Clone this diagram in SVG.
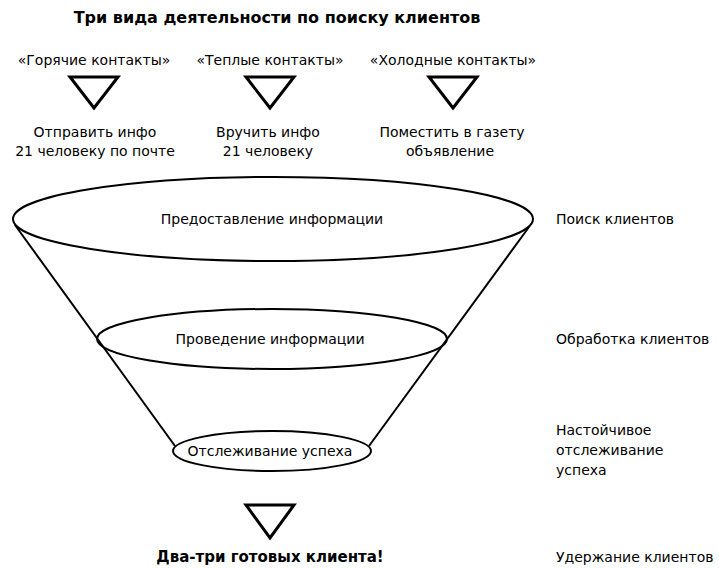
<svg xmlns="http://www.w3.org/2000/svg" width="719" height="568" viewBox="0 0 719 568">
<style>
.t{font-family:"DejaVu Sans","Liberation Sans",sans-serif;font-size:14px;fill:#000}
.c{text-anchor:middle}
.b{font-family:"DejaVu Sans","Liberation Sans",sans-serif;font-weight:bold;fill:#000;text-anchor:middle}
.e{fill:none;stroke:#000;stroke-width:2}
.tri{fill:none;stroke:#000;stroke-width:3;stroke-linejoin:miter}
.ln{stroke:#000;stroke-width:2;fill:none}
</style>
<rect width="719" height="568" fill="#fff"/>
<g id="title"><text class="b" x="277" y="23" font-size="16">Три вида деятельности по поиску клиентов</text></g>
<g id="hot">
<text class="t c" x="94" y="65">«Горячие контакты»</text>
<polygon class="tri" points="70,77 118,77 94,108"/>
<text class="t c" x="95" y="137">Отправить инфо</text>
<text class="t c" x="95" y="156">21 человеку по почте</text>
</g>
<g id="warm">
<text class="t c" x="270" y="65">«Теплые контакты»</text>
<polygon class="tri" points="246,77 294,77 270,108"/>
<text class="t c" x="268" y="137">Вручить инфо</text>
<text class="t c" x="268" y="156">21 человеку</text>
</g>
<g id="cold">
<text class="t c" x="453" y="65">«Холодные контакты»</text>
<polygon class="tri" points="429,77 477,77 453,108"/>
<text class="t c" x="452" y="137">Поместить в газету</text>
<text class="t c" x="450" y="156">объявление</text>
</g>
<g id="connectors">
<line class="ln" x1="15" y1="225" x2="175" y2="446"/>
<line class="ln" x1="529" y1="227" x2="369" y2="446"/>
</g>
<g id="stage1">
<ellipse class="e" cx="273" cy="219" rx="260" ry="42"/>
<text class="t c" x="272" y="224">Предоставление информации</text>
</g>
<g id="stage2">
<ellipse class="e" cx="272" cy="339" rx="175" ry="30"/>
<text class="t c" x="270" y="344">Проведение информации</text>
</g>
<g id="stage3">
<ellipse class="e" cx="272" cy="451" rx="99" ry="20" style="fill:#fff"/>
<text class="t c" x="270" y="456">Отслеживание успеха</text>
</g>
<g id="result">
<polygon class="tri" points="246,505 294,505 270,538"/>
<text class="b" x="270" y="562" font-size="15">Два-три готовых клиента!</text>
</g>
<g id="labels">
<text class="t" x="556" y="224">Поиск клиентов</text>
<text class="t" x="556" y="344">Обработка клиентов</text>
<text class="t" x="556" y="435">Настойчивое</text>
<text class="t" x="556" y="455">отслеживание</text>
<text class="t" x="556" y="475">успеха</text>
<text class="t" x="556" y="562">Удержание клиентов</text>
</g>
</svg>
